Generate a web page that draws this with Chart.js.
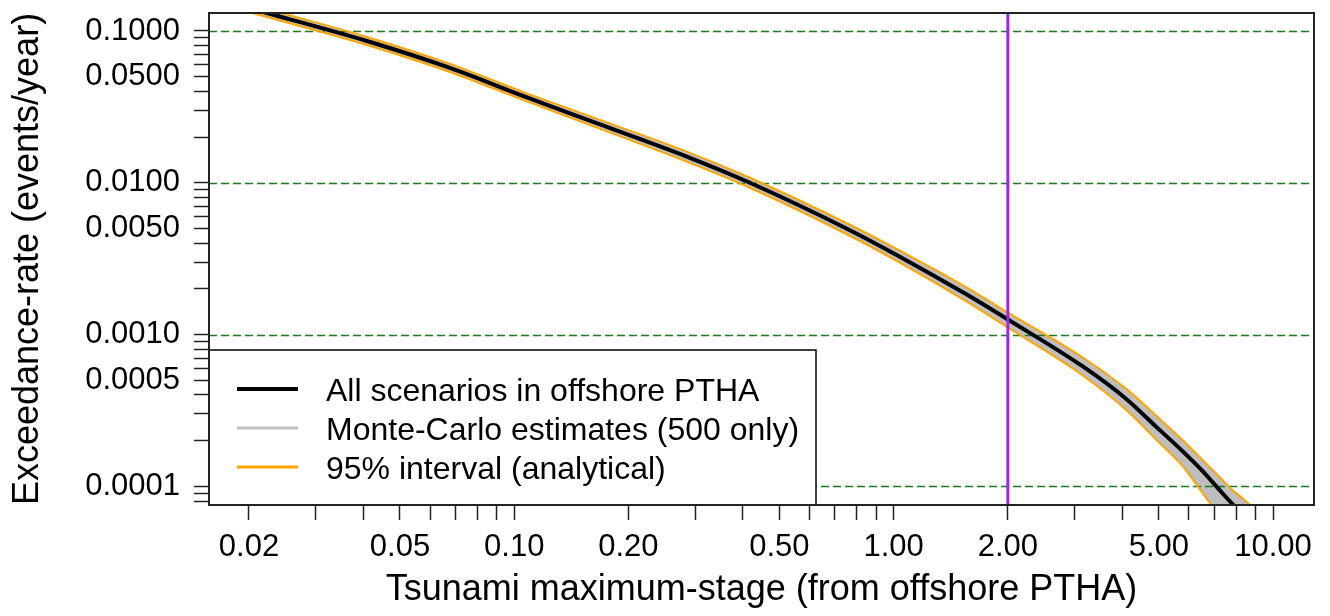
<!DOCTYPE html>
<html>
<head>
<meta charset="utf-8">
<script src="https://cdn.jsdelivr.net/npm/chart.js@4.4.1/dist/chart.umd.min.js"></script>
<style>
  html, body { margin: 0; padding: 0; background: #fff; }
  #wrap { width: 1330px; height: 616px; position: relative; }
</style>
</head>
<body>
<div id="wrap"><canvas id="chart"></canvas></div>
<script>
// tsunami maximum-stage (x) and exceedance rates
const stages      = [0.0157, 0.0223, 0.0409, 0.0677, 0.1054, 0.1755, 0.2904, 0.418, 0.753, 1.038, 1.559, 2.0, 3.152, 4.118, 4.94, 5.78, 6.53, 7.24, 7.83, 8.42, 9.34];
const rateAll     = [0.1674, 0.1314, 0.0859, 0.0571, 0.03736, 0.02335, 0.0146, 0.0100, 0.00498, 0.00326, 0.001833, 0.001256, 0.000616, 0.0003736, 0.0002444, 0.000170, 0.0001255, 0.0000941, 0.0000761, 0.0000645, 0.0000498];
const rateUpper95 = [0.1778, 0.1396, 0.0913, 0.0607, 0.0397, 0.0250, 0.01575, 0.01079, 0.00541, 0.00357, 0.002038, 0.001396, 0.000706, 0.000435, 0.000289, 0.000201, 0.0001483, 0.0001146, 0.0000941, 0.000081, 0.0000634];
const rateLower95 = [0.1576, 0.1237, 0.0809, 0.0537, 0.0352, 0.0218, 0.01353, 0.00927, 0.00458, 0.00298, 0.001649, 0.001113, 0.000537, 0.000316, 0.0002007, 0.0001354, 0.0000899, 0.0000635, 0.0000498, 0.000041, 0.0000311];

// axis ticks
const xMajor = [0.02, 0.05, 0.1, 0.2, 0.5, 1, 2, 5, 10];
const xMinor = [0.03, 0.04, 0.06, 0.07, 0.08, 0.09, 0.3, 0.4, 0.6, 0.7, 0.8, 0.9, 3, 4, 6, 7, 8, 9];
const yMajor = [0.1, 0.05, 0.01, 0.005, 0.001, 0.0005, 0.0001];
const yMinor = [0.09, 0.08, 0.07, 0.06, 0.04, 0.03, 0.02,
                0.009, 0.008, 0.007, 0.006, 0.004, 0.003, 0.002,
                0.0009, 0.0008, 0.0007, 0.0006, 0.0004, 0.0003, 0.0002,
                0.00009, 0.00008];

// reference lines
const refRates = [0.1, 0.01, 0.001, 0.0001];
const refStage = 2;

// legend
const legendLabels = ['All scenarios in offshore PTHA', 'Monte-Carlo estimates (500 only)', '95% interval (analytical)'];
const legendColors = ['#000000', '#bebebe', '#ffa500'];

const FONT = '"Liberation Sans", Arial, Helvetica, sans-serif';

function pts(ys) {
  return stages.map((x, i) => ({x: x, y: ys[i]}));
}

// lignes de référence sous les courbes, ligne violette + cadre par-dessus
const refPlugin = {
  id: 'refLines',
  beforeDatasetsDraw(chart) {
    const {ctx, chartArea: a, scales} = chart;
    ctx.save();
    ctx.strokeStyle = '#1a7a1a';
    ctx.lineWidth = 1.3;
    ctx.setLineDash([8, 4]);
    refRates.forEach(r => {
      const y = Math.round(scales.y.getPixelForValue(r)) + 0.5;
      ctx.beginPath(); ctx.moveTo(a.left, y); ctx.lineTo(a.right, y); ctx.stroke();
    });
    ctx.restore();
  },
  afterDatasetsDraw(chart) {
    const {ctx, chartArea: a, scales} = chart;
    ctx.save();
    const x = scales.x.getPixelForValue(refStage);
    ctx.strokeStyle = '#a020f0';
    ctx.lineWidth = 3;
    ctx.beginPath(); ctx.moveTo(x, a.top); ctx.lineTo(x, a.bottom); ctx.stroke();
    ctx.restore();
  },
  afterDraw(chart) {
    const {ctx, chartArea: a} = chart;
    ctx.save();
    // legend box (bottom left, inside plot)
    const lx = a.left, ly = a.bottom - 155, lw = 607, lh = 155;
    ctx.fillStyle = '#fff';
    ctx.fillRect(lx, ly, lw, lh);
    ctx.strokeStyle = '#000';
    ctx.lineWidth = 1.5;
    ctx.strokeRect(lx, ly, lw, lh);
    ctx.font = '32px ' + FONT;
    ctx.textBaseline = 'alphabetic';
    ctx.fillStyle = '#000';
    legendLabels.forEach((t, i) => {
      const y = ly + 39 + i * 39;
      ctx.strokeStyle = legendColors[i];
      ctx.lineWidth = i === 0 ? 4 : 3;
      ctx.beginPath(); ctx.moveTo(lx + 28, y); ctx.lineTo(lx + 89, y); ctx.stroke();
      ctx.fillText(t, lx + 117, y + 12);
    });
    // plot frame
    ctx.strokeStyle = '#222';
    ctx.lineWidth = 2;
    ctx.strokeRect(a.left, a.top, a.right - a.left, a.bottom - a.top);
    ctx.restore();
  }
};

const ctx = document.getElementById('chart').getContext('2d');
new Chart(ctx, {
  type: 'line',
  data: {
    datasets: [
      {label: 'All scenarios in offshore PTHA', data: pts(rateAll), borderColor: '#000', borderWidth: 4, pointRadius: 0, fill: false},
      {label: '95% upper', data: pts(rateUpper95), borderColor: '#ffa500', borderWidth: 2, pointRadius: 0,
       fill: {target: 2}, backgroundColor: '#bebebe'},
      {label: '95% lower', data: pts(rateLower95), borderColor: '#ffa500', borderWidth: 2, pointRadius: 0, fill: false}
    ]
  },
  options: {
    responsive: true,
    maintainAspectRatio: false,
    animation: false,
    parsing: false,
    elements: {line: {cubicInterpolationMode: 'monotone'}},
    layout: {padding: {top: 13, right: 16, left: 0, bottom: 0}},
    plugins: {
      legend: {display: false},
      tooltip: {enabled: false},
      filler: {drawTime: 'beforeDatasetsDraw'}
    },
    scales: {
      x: {
        type: 'logarithmic',
        min: 0.01569, max: 12.82,
        afterBuildTicks: s => { s.ticks = xMajor.concat(xMinor).sort((p, q) => p - q).map(v => ({value: v})); },
        afterFit: s => { s.height = 111; s.paddingLeft = 0; s.paddingRight = 0; },
        ticks: {
          autoSkip: false, maxRotation: 0, padding: 9, color: '#000',
          font: {family: FONT, size: 31},
          callback: v => xMajor.includes(v) ? v.toFixed(2) : ''
        },
        grid: {drawOnChartArea: false, drawTicks: true, tickLength: 15, tickColor: '#222', tickWidth: 1.5},
        border: {display: false},
        title: {display: true, text: 'Tsunami maximum-stage (from offshore PTHA)', color: '#000',
                font: {family: FONT, size: 36}, padding: {top: 0, bottom: 4}}
      },
      y: {
        type: 'logarithmic',
        min: 0.0000753, max: 0.1314,
        afterBuildTicks: s => { s.ticks = yMajor.concat(yMinor).sort((p, q) => p - q).map(v => ({value: v})); },
        afterFit: s => { s.width = 209; s.paddingTop = 0; s.paddingBottom = 0; },
        ticks: {
          autoSkip: false, padding: 14, color: '#000',
          font: {family: FONT, size: 31},
          callback: v => yMajor.includes(v) ? v.toFixed(4) : ''
        },
        grid: {drawOnChartArea: false, drawTicks: true, tickLength: 15, tickColor: '#222', tickWidth: 1.5},
        border: {display: false},
        title: {display: true, text: 'Exceedance-rate (events/year)', color: '#000',
                font: {family: FONT, size: 36}, padding: {top: 6, bottom: 0}}
      }
    }
  },
  plugins: [refPlugin]
});
</script>
</body>
</html>
